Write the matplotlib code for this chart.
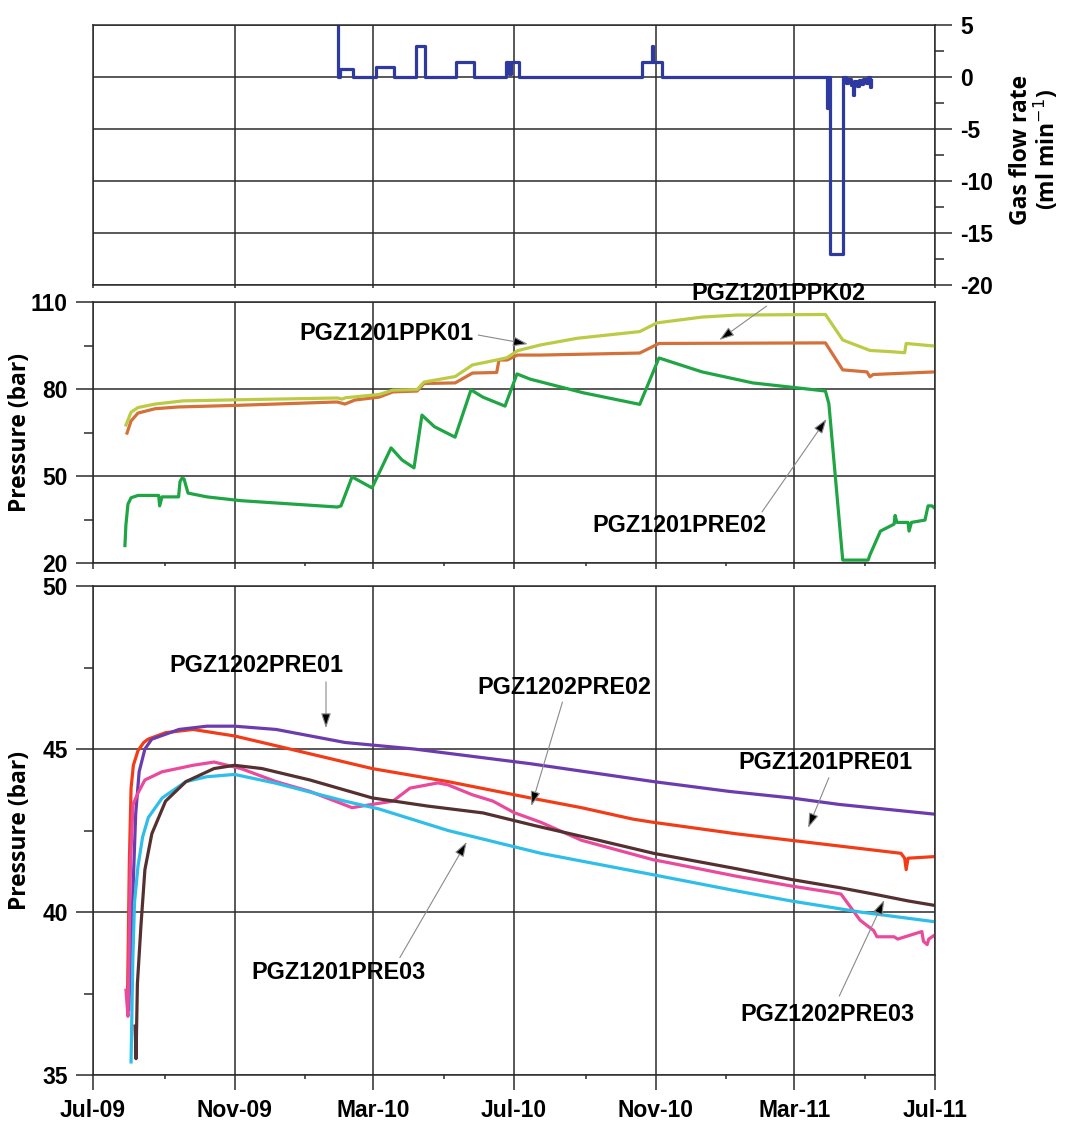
import numpy as np
import matplotlib
matplotlib.use("Agg")
import matplotlib.pyplot as plt
import matplotlib.dates as mdates
from matplotlib.ticker import MultipleLocator, FixedLocator

plt.rcParams['axes.unicode_minus'] = False
plt.rcParams['font.family'] = ['Liberation Sans', 'DejaVu Sans']

# ---------------- data (days since 1 Jul 2009) ----------------
gas_days = [211, 212, 214, 225, 245, 261, 280, 288, 315, 330, 358, 361, 362, 369,
            476, 484.5, 485.5, 493, 636, 637.5, 639, 650.5, 653, 655, 657, 659, 660,
            662, 664, 666, 668, 670, 672, 673.5, 674.5]
gas_vals = [8, 0, 0.8, 0, 1.0, 0, 3.0, 0, 1.4, 0, 1.4, 0.3, 1.4, 0,
            1.4, 3.0, 1.4, 0, -3, 0, -17, 0, -0.6, -0.2, -0.8, -1.7, -0.4,
            -0.9, -0.3, -0.7, -0.2, -0.6, 0, -1.0, -0.3]

ppk01_days = [28.6, 33, 39, 53.8, 78, 128, 212, 216, 219, 248, 260, 281, 287, 314, 329,
              350, 359, 368, 388, 420, 474, 489, 528, 558, 635, 650, 673.6, 694.5,
              703.7, 705, 730]
ppk01_vals = [67.6, 72, 73.6, 74.8, 75.9, 76.3, 76.9, 76.5, 77.0, 78.1, 79.6, 79.8, 82.4,
              84.3, 88.3, 90, 90.8, 93.2, 95.2, 97.5, 99.8, 102.8, 104.8, 105.5, 105.7,
              96.9, 93.3, 92.8, 92.5, 95.7, 94.8]

ppk02_days = [29.5, 33, 39, 53.8, 74, 128, 209, 212, 218.5, 227, 248, 260, 281, 287, 314,
              329, 350, 352, 359, 368, 388, 474, 490.7, 635, 650, 671, 673.6, 676.4, 730]
ppk02_vals = [64.8, 69, 71.7, 73.2, 73.8, 74.4, 75.5, 75.5, 74.8, 76.2, 77.2, 79, 79.3,
              81.9, 82.1, 85.5, 85.7, 90, 90, 91.7, 91.7, 92.4, 95.7, 95.9, 86.6, 85.9,
              84.2, 85, 85.9]

pre02_days = [27.7, 28.5, 30.3, 33, 39, 56.9, 57.8, 59.8, 74.2, 75.4, 77, 78.9, 82.4,
              98.8, 128, 212, 215, 224.6, 241.9, 258.4, 268, 278.3, 285.2, 296, 313.9,
              327.7, 338, 357.2, 367.6, 379, 425, 474, 490.7, 528, 572, 635, 638, 650,
              672, 673.6, 682.7, 694.5, 695.4, 697, 706.6, 707.5, 709.6, 721.3, 724,
              727.4, 730]
pre02_vals = [26, 33, 40.3, 42.5, 43.3, 43.3, 39.7, 42.8, 42.8, 48, 49.2, 49, 44.1,
              42.8, 41.5, 39.3, 39.7, 49.7, 45.9, 59.7, 55.5, 52.8, 71, 67, 63.4,
              79.7, 77.2, 74.1, 85.2, 83.4, 78.7, 74.7, 90.7, 85.9, 82.1, 79.3, 74.9, 21,
              21, 22.8, 31, 33.4, 36.4, 34, 34, 31, 34, 34.8, 39.7,
              39.7, 38.8]

b_pre01_days = [30, 31.5, 33, 35, 39, 44, 47.7, 62.9, 86.7, 122.7, 158.7, 242, 307.8,
                379, 423.5, 468, 486, 557.5, 605, 700.5, 703.7, 705, 706.6, 730]
b_pre01_vals = [37.6, 41.5, 43.8, 44.5, 44.95, 45.2, 45.3, 45.5, 45.6, 45.4, 45.1, 44.4,
                44.0, 43.5, 43.2, 42.85, 42.75, 42.4, 42.2, 41.8, 41.65, 41.3, 41.65, 41.7]

c_pre01_days = [31, 34, 37, 40, 45, 50.9, 74.6, 98.8, 122.7, 158.7, 218.5, 278.3, 379,
                486, 551.4, 605, 646.8, 730]
c_pre01_vals = [37.0, 40.0, 43.0, 44.3, 45.0, 45.3, 45.6, 45.7, 45.7, 45.6, 45.2, 45.0,
                44.55, 44.0, 43.7, 43.5, 43.3, 43.0]

c_pre02_days = [28.6, 30.3, 32.5, 34.7, 39, 45, 59.8, 86.7, 104.9, 128.3, 158.7, 188,
                224.6, 233.2, 241.9, 260, 274.8, 299, 307.8, 328.6, 346.8, 365, 388.4,
                423.5, 486, 498, 557.5, 605, 640.7, 648.5, 665, 676.8, 679.7, 694.5,
                697.7, 718.6, 720, 723.2, 724.6, 730]
c_pre02_vals = [37.6, 36.8, 41.5, 43.3, 43.65, 44.05, 44.3, 44.5, 44.6, 44.4, 44.0,
                43.7, 43.2, 43.25, 43.3, 43.4, 43.8, 43.96, 43.9, 43.6, 43.4, 43.05,
                42.75, 42.2, 41.6, 41.52, 41.1, 40.8, 40.6, 40.55, 39.75, 39.43, 39.24,
                39.24, 39.17, 39.4, 39.1, 39.0, 39.17, 39.3]

b_pre03_days = [33, 34.5, 36, 39, 43, 48, 60, 80.6, 98.8, 122.7, 158.7, 218.5, 248,
                307.8, 388.4, 486, 557.5, 605, 665, 730]
b_pre03_vals = [35.4, 38.5, 40.3, 41.4, 42.3, 42.9, 43.5, 44.0, 44.15, 44.22, 43.95,
                43.4, 43.16, 42.5, 41.8, 41.14, 40.65, 40.34, 40.0, 39.7]

c_pre03_days = [36.5, 37.3, 38.5, 41.6, 45, 51, 62.9, 80.6, 104.9, 122.7, 146.5, 188,
                242, 290, 338, 383, 438.4, 486, 557.5, 605, 646.8, 676.8, 706.6, 730]
c_pre03_vals = [36.5, 35.5, 37.8, 39.6, 41.3, 42.4, 43.4, 44.0, 44.4, 44.5, 44.4, 44.05,
                43.5, 43.25, 43.04, 42.65, 42.2, 41.8, 41.33, 41.0, 40.75, 40.55, 40.34,
                40.2]

mid_yticks = [20, 50, 80, 110]
mid_yminor = [35, 65, 95]

# ---------------- styling ----------------
BASE = mdates.date2num(np.datetime64('2009-07-01'))
X0 = BASE
X1 = mdates.date2num(np.datetime64('2011-07-01'))
def X(d):
    return BASE + np.asarray(d, dtype=float)

GRID = '#2b2b2b'
LW = 2.3
TICKFONT = dict(family=['Liberation Sans', 'DejaVu Sans'], weight='bold', size=16.8)
LABFONT = dict(family=['Open Sans', 'DejaVu Sans'], weight='bold', size=16.5)

W, H = 1065, 1137
fig = plt.figure(figsize=(W / 100, H / 100), dpi=100)
fig.patch.set_facecolor('white')

def frac(l, t, r, b):
    return [l / W, 1 - b / H, (r - l) / W, (b - t) / H]

ax1 = fig.add_axes(frac(93, 25, 935, 285))
ax2 = fig.add_axes(frac(93, 302, 935, 563))
ax3 = fig.add_axes(frac(93, 586, 935, 1075))

for ax in (ax1, ax2, ax3):
    ax.set_xlim(X0, X1)
    ax.xaxis.set_major_locator(mdates.MonthLocator(bymonth=[3, 7, 11]))
    ax.xaxis.set_minor_locator(mdates.MonthLocator(bymonth=[1, 5, 9]))
    ax.xaxis.set_major_formatter(mdates.DateFormatter('%b-%y'))
    ax.grid(True, which='major', color=GRID, lw=1.1)
    ax.set_axisbelow(True)
    for s in ax.spines.values():
        s.set_color(GRID)
        s.set_linewidth(1.1)
    ax.tick_params(which='both', direction='out', color=GRID, width=1.1)

# ---- top panel: gas flow ----
ax1.step(X(gas_days), gas_vals, where='post', color='#2e3a9f', lw=LW)
ax1.set_ylim(-20, 5)
ax1.yaxis.tick_right()
ax1.yaxis.set_major_locator(MultipleLocator(5))
ax1.yaxis.set_minor_locator(MultipleLocator(2.5))
ax1.tick_params(axis='y', which='major', length=12, pad=6, labelsize=16.5)
ax1.tick_params(axis='y', which='minor', length=6.5)
ax1.tick_params(axis='x', which='major', length=2.5, labelbottom=False)
ax1.tick_params(axis='x', which='minor', length=0)
for lab in ax1.get_yticklabels():
    lab.set_fontweight('bold')
fig.text(1035 / W, 1 - 150 / H, 'Gas flow rate\n(ml min$^{-1}$)', rotation=90,
         ha='center', va='center', multialignment='center', linespacing=1.0, **LABFONT)

# ---- middle panel ----
ax2.plot(X(ppk02_days), ppk02_vals, color='#d4703a', lw=LW)
ax2.plot(X(ppk01_days), ppk01_vals, color='#bccb45', lw=LW)
ax2.plot(X(pre02_days), pre02_vals, color='#1fa544', lw=LW)
ax2.set_ylim(20, 110)
ax2.yaxis.set_major_locator(FixedLocator(mid_yticks))
ax2.yaxis.set_minor_locator(FixedLocator(mid_yminor))
ax2.tick_params(axis='y', which='major', length=12, pad=6, labelsize=16.5)
ax2.tick_params(axis='y', which='minor', length=6.5)
ax2.tick_params(axis='x', which='major', length=4.5, labelbottom=False)
ax2.tick_params(axis='x', which='minor', length=2.5)
for lab in ax2.get_yticklabels():
    lab.set_fontweight('bold')
ax2.set_ylabel('Pressure (bar)', **LABFONT)
ax2.yaxis.set_label_coords(-0.072, 0.5)

# ---- bottom panel ----
ax3.plot(X(b_pre01_days), b_pre01_vals, color='#f23c18', lw=LW)
ax3.plot(X(c_pre01_days), c_pre01_vals, color='#6c3cae', lw=LW)
ax3.plot(X(c_pre02_days), c_pre02_vals, color='#ea4a9c', lw=LW)
ax3.plot(X(b_pre03_days), b_pre03_vals, color='#2fbde9', lw=LW)
ax3.plot(X(c_pre03_days), c_pre03_vals, color='#553030', lw=LW)
ax3.set_ylim(35, 50)
ax3.yaxis.set_major_locator(MultipleLocator(5))
ax3.yaxis.set_minor_locator(MultipleLocator(2.5))
ax3.tick_params(axis='y', which='major', length=12, pad=6, labelsize=16.5)
ax3.tick_params(axis='y', which='minor', length=6.5)
ax3.tick_params(axis='x', which='major', length=11, pad=6, labelsize=16.5)
ax3.tick_params(axis='x', which='minor', length=3)
for lab in ax3.get_yticklabels() + ax3.get_xticklabels():
    lab.set_fontweight('bold')
ax3.set_ylabel('Pressure (bar)', **LABFONT)
ax3.yaxis.set_label_coords(-0.072, 0.5)

# ---- annotations ----
def label(ax, text, txy, tail, head):
    ax.text(X(txy[0]), txy[1], text, ha='center', va='center', clip_on=False,
            **TICKFONT)
    ax.annotate('', xy=(X(head[0]), head[1]), xytext=(X(tail[0]), tail[1]),
                annotation_clip=False,
                arrowprops=dict(arrowstyle='-|>,head_length=0.9,head_width=0.3',
                                ec='#8a8a8a', fc='black', lw=0.8,
                                shrinkA=0, shrinkB=0))

label(ax2, 'PGZ1201PPK01', (254, 99.3), (334, 98.6), (377, 95.5))
label(ax2, 'PGZ1201PPK02', (594, 113.1), (584, 108.6), (543, 96.9))
label(ax2, 'PGZ1201PRE02', (508.5, 32.8), (580, 37.6), (636, 69.7))

label(ax3, 'PGZ1202PRE01', (142, 47.55), (202, 47.06), (202, 45.64))
label(ax3, 'PGZ1202PRE02', (409, 46.88), (407, 46.44), (380, 43.25))
label(ax3, 'PGZ1201PRE03', (213, 38.13), (266, 38.6), (324, 42.15))
label(ax3, 'PGZ1201PRE01', (635, 44.6), (638, 44.12), (620, 42.58))
label(ax3, 'PGZ1202PRE03', (636.5, 36.87), (647, 37.42), (686, 40.37))

fig.savefig('out.png', dpi=100, facecolor='white')
